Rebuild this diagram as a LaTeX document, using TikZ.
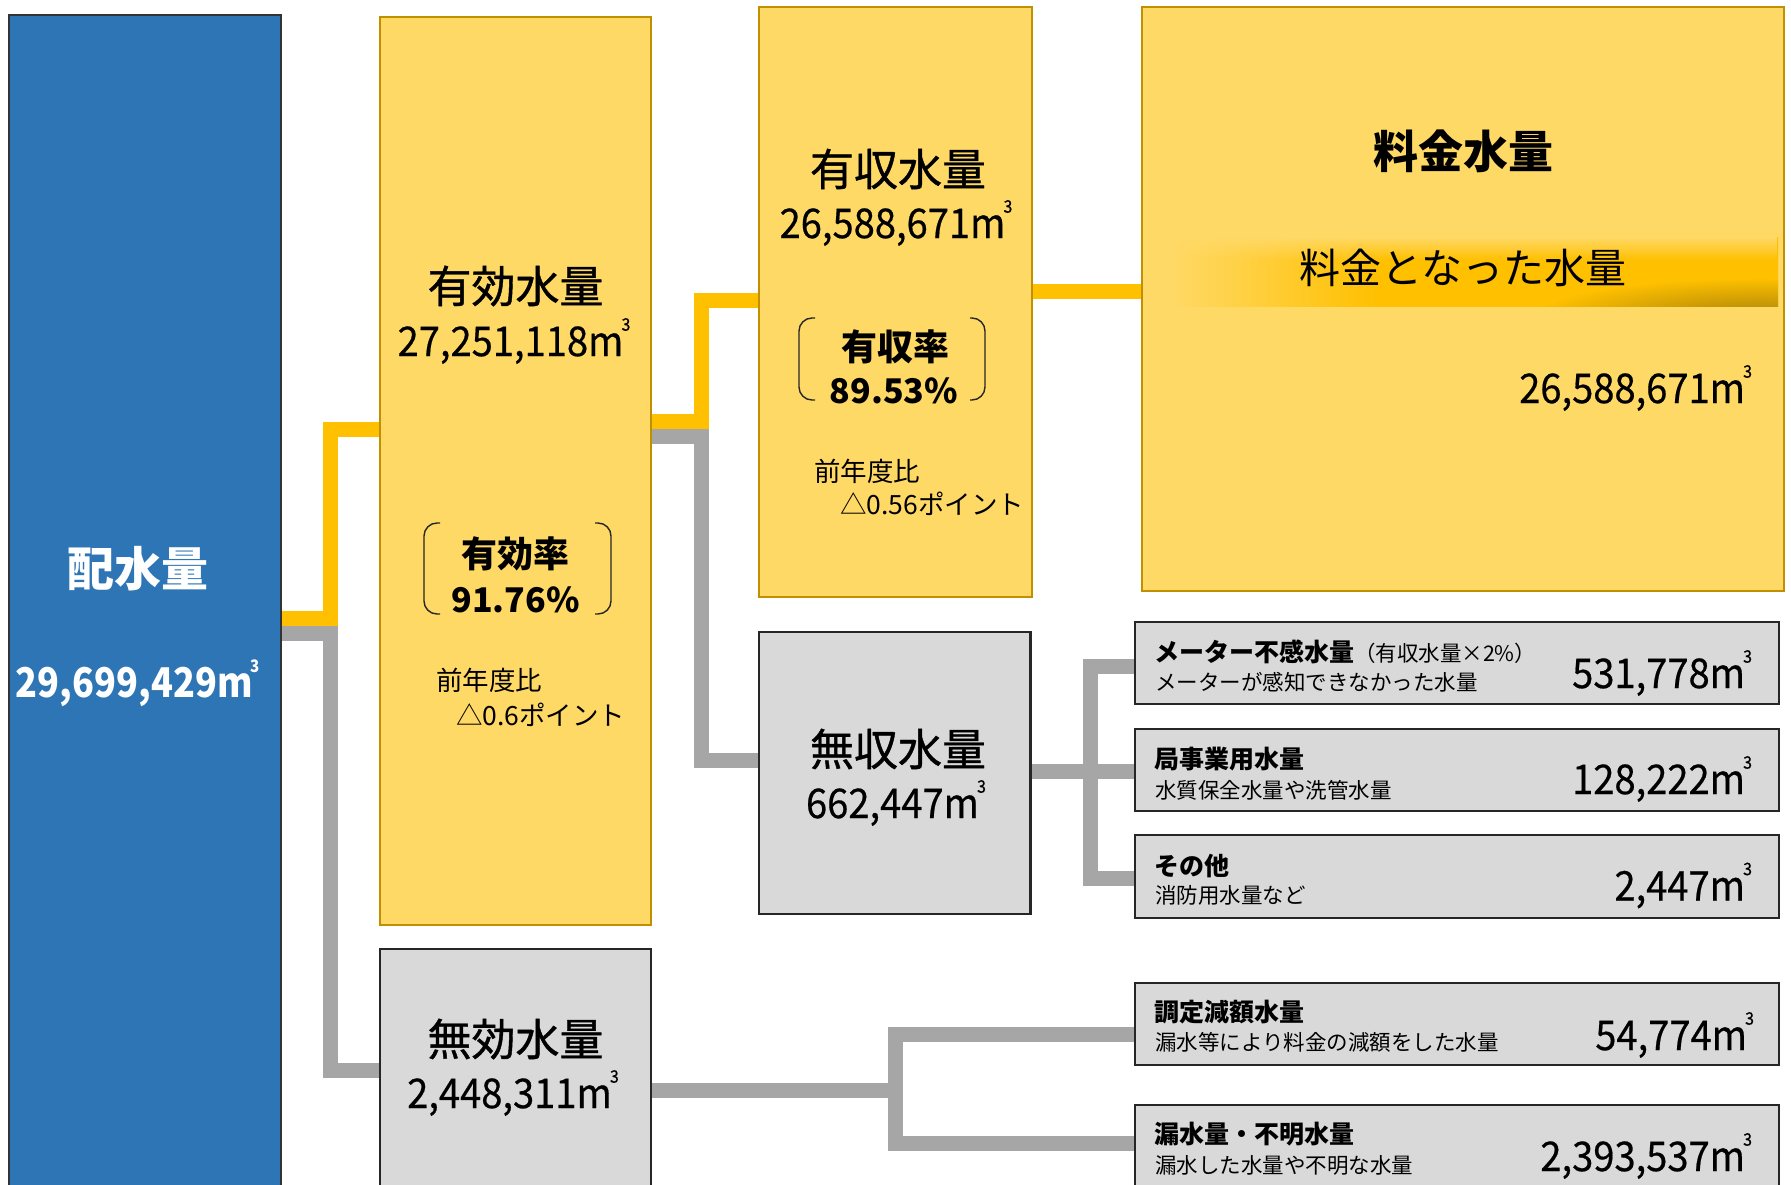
\documentclass[tikz,border=0pt]{standalone}
\usepackage{fontspec}
\usepackage{graphicx}
\setmainfont{Noto Sans CJK JP}
\newfontfamily\medfont{Noto Sans CJK JP}[FakeBold=0.9]
\newfontfamily\semifont{Noto Sans CJK JP}[FakeBold=0.5]
\usetikzlibrary{backgrounds,fadings}
\definecolor{ylwfill}{HTML}{FFD966}
\definecolor{ylwline}{HTML}{C09000}
\definecolor{goldc}{HTML}{FFC000}
\definecolor{darkgold}{HTML}{A88208}
\definecolor{bluefill}{HTML}{2E75B6}
\definecolor{conngray}{HTML}{A6A6A6}
\definecolor{grayfill}{HTML}{D9D9D9}
\pgfdeclarehorizontalshading{bandsh}{100bp}{color(0bp)=(ylwfill); color(25bp)=(ylwfill); color(42bp)=(goldc); color(100bp)=(goldc)}
\newcommand{\fs}[1]{\fontsize{#1}{#1}\selectfont}
\newcommand{\cu}{m\kern-0.05em\raisebox{0.62em}{\scalebox{0.42}{3}}}
\newcommand{\numr}[1]{\scalebox{0.93}[1]{\semifont\fs{41}#1}}
\begin{document}
\begin{tikzpicture}[x=1pt,y=-1pt,
  box/.style={inner sep=0pt, outer sep=0pt, anchor=north west},
  ybox/.style={box, fill=ylwfill, draw=ylwline, line width=2pt},
  gbox/.style={box, fill=grayfill, draw=black!85, line width=2.5pt},
  yconn/.style={draw=goldc, line width=15pt},
  gconn/.style={draw=conngray, line width=15pt},
  brk/.style={draw=black!85, line width=1.4pt, rounded corners=13pt},
  txt/.style={inner sep=0pt, outer sep=0pt},
  head/.style={txt, font=\medfont\fs{44}},
  rate/.style={txt, font=\fs{36}\bfseries},
  pct/.style={txt, font=\fs{34}\bfseries},
  note/.style={txt, anchor=west, font=\fs{26.5}},
  mtitle/.style={txt, anchor=west, font=\fs{25}\bfseries},
  msub/.style={txt, anchor=west, font=\fs{21.5}},
  mval/.style={txt, anchor=east}
]
\useasboundingbox (0,0) rectangle (1791,1185);

% boxes
\node[box, fill=bluefill, draw=black!80, line width=2pt, minimum width=272pt, minimum height=1185pt] (haisui) at (9,15) {};
\node[ybox, minimum width=271pt, minimum height=908pt] (yuko) at (380,17) {};
\node[gbox, minimum width=271pt, minimum height=251pt] (muko) at (380,949) {};
\node[ybox, minimum width=273pt, minimum height=590pt] (yushu) at (759,7) {};
\node[gbox, minimum width=271.5pt, minimum height=282pt] (mushu) at (759,632) {};
\node[ybox, minimum width=642pt, minimum height=584pt] (ryokin) at (1142,7) {};
\node[gbox, minimum width=644pt, minimum height=82pt] (m1) at (1135,622) {};
\node[gbox, minimum width=644pt, minimum height=82pt] (m2) at (1135,729) {};
\node[gbox, minimum width=644pt, minimum height=83pt] (m3) at (1135,835) {};
\node[gbox, minimum width=644pt, minimum height=82pt] (m4) at (1135,983) {};
\node[gbox, minimum width=644pt, minimum height=95pt] (m5) at (1135,1105) {};

% connectors
\begin{scope}[on background layer]
\fill[white] (0,0) rectangle (1791,1185);
\draw[gconn] (haisui.east |- 0,633.5) -| (330.5,1070) -- (muko.west |- 0,1070);
\draw[yconn] (haisui.east |- 0,618.5) -| (330.5,429.5) -- (yuko.west |- 0,429.5);
\draw[gconn] (yuko.east |- 0,436) -| (701,760.5) -- (mushu.west |- 0,760.5);
\draw[yconn] (yuko.east |- 0,421) -| (701,300) -- (yushu.west |- 0,300);
\draw[yconn] (yushu.east |- 0,291) -- (ryokin.west |- 0,291);
\draw[gconn] (m1.west |- 0,666) -| (1090.5,878) -- (m3.west |- 0,878);
\draw[gconn] (mushu.east |- 0,771.5) -- (m2.west |- 0,771.5);
\draw[gconn] (m4.west |- 0,1034.5) -| (895.5,1143) -- (m5.west |- 0,1143);
\draw[gconn] (muko.east |- 0,1090) -- (895.5,1090);
\end{scope}

% gradient band
\shade[shading=bandsh] (1171,238) rectangle (1778,306);
\begin{scope}
\clip (1171,238) rectangle (1778,306);
\shade[inner color=darkgold, outer color=goldc] (1760,318) ellipse (230 and 40);
\end{scope}
\fill[ylwfill, path fading=south] (1171,237) rectangle (1778,260);

% brackets
\draw[brk] (440,523) -- (424,523) -- (424,614) -- (440,614);
\draw[brk] (595,523) -- (611,523) -- (611,614) -- (595,614);
\draw[brk] (815,318) -- (799,318) -- (799,400) -- (815,400);
\draw[brk] (970,318) -- (985,318) -- (985,400) -- (970,400);

% texts
\node[txt, text=white, font=\fs{47}\bfseries] (t-haisui) at (138,569) {配水量};
\node[txt, text=white] (v-haisui) at (138,683) {\scalebox{0.88}[1]{\fs{41}\bfseries 29,699,429\cu}};

\node[head] (t-yuko) at (515.5,286) {有効水量};
\node[txt] (v-yuko) at (514,341) {\numr{27,251,118\cu}};
\node[rate] (r-yuko) at (515,554) {有効率};
\node[pct] (p-yuko) at (515.5,600) {91.76\%};
\node[note] (n1-yuko) at (436,680) {前年度比};
\node[note] (n2-yuko) at (456,715) {△0.6ポイント};

\node[head] (t-yushu) at (898,169) {有収水量};
\node[txt] (v-yushu) at (896,223) {\numr{26,588,671\cu}};
\node[rate] (r-yushu) at (895,347) {有収率};
\node[pct] (p-yushu) at (894,391) {89.53\%};
\node[note] (n1-yushu) at (814,471) {前年度比};
\node[note] (n2-yushu) at (840,504) {△0.56ポイント};

\node[txt, font=\fs{45}\bfseries] (t-ryokin) at (1463,151) {料金水量};
\node[txt, font=\fs{41}] (s-ryokin) at (1463,268) {料金となった水量};
\node[mval] (v-ryokin) at (1752,388) {\numr{26,588,671\cu}};

\node[head] (t-mushu) at (898,749) {無収水量};
\node[txt] (v-mushu) at (896,803) {\numr{662,447\cu}};

\node[head] (t-muko) at (515.5,1039) {無効水量};
\node[txt] (v-muko) at (513,1093) {\numr{2,448,311\cu}};

\node[mtitle] (m1t) at (1154,652) {メーター不感水量{\fs{21.5}\mdseries （有収水量×2\%）}};
\node[msub] (m1s) at (1155,682) {メーターが感知できなかった水量};
\node[mval] (m1v) at (1752,673) {\numr{531,778\cu}};

\node[mtitle] (m2t) at (1154,759) {局事業用水量};
\node[msub] (m2s) at (1155,790) {水質保全水量や洗管水量};
\node[mval] (m2v) at (1752,779) {\numr{128,222\cu}};

\node[mtitle] (m3t) at (1154,866) {その他};
\node[msub] (m3s) at (1155,895) {消防用水量など};
\node[mval] (m3v) at (1752,885.5) {\numr{2,447\cu}};

\node[mtitle] (m4t) at (1154,1012) {調定減額水量};
\node[msub] (m4s) at (1155,1042) {漏水等により料金の減額をした水量};
\node[mval] (m4v) at (1754,1035) {\numr{54,774\cu}};

\node[mtitle] (m5t) at (1154,1134) {漏水量・不明水量};
\node[msub] (m5s) at (1155,1165) {漏水した水量や不明な水量};
\node[mval] (m5v) at (1752,1156) {\numr{2,393,537\cu}};
\end{tikzpicture}
\end{document}
